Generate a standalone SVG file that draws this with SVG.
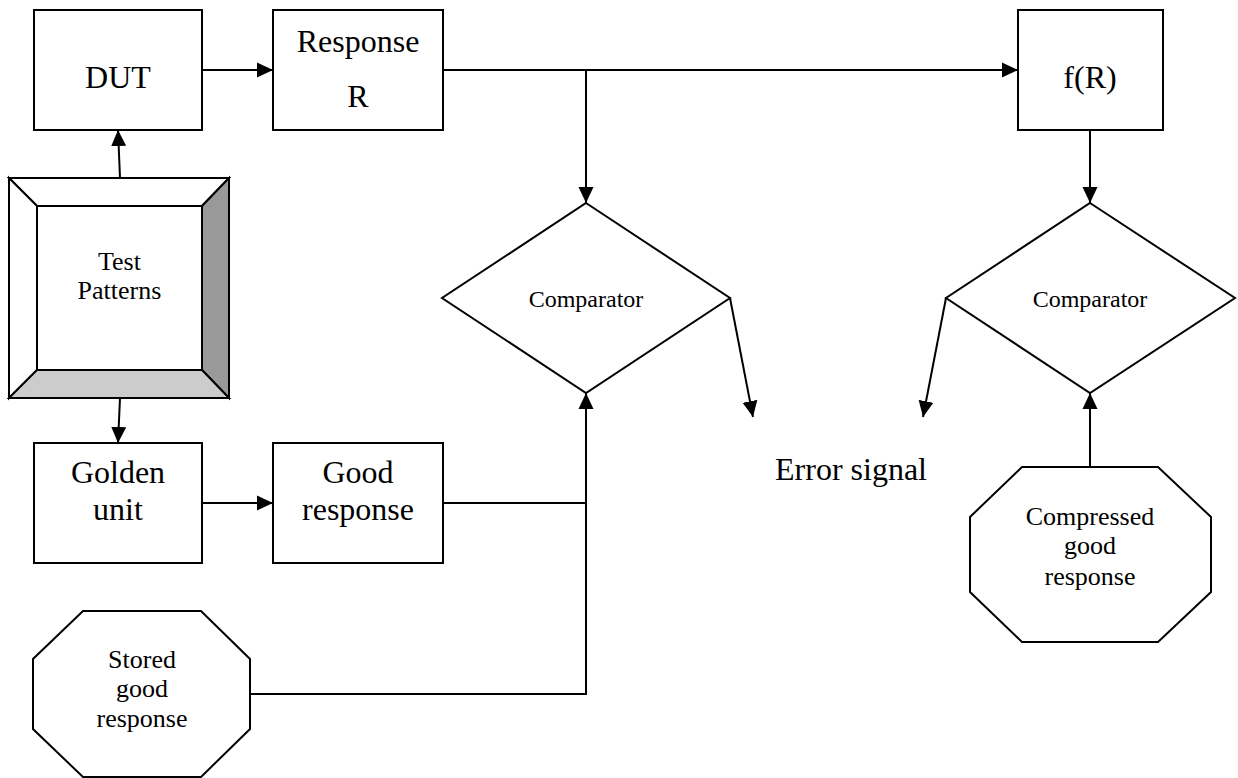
<svg xmlns="http://www.w3.org/2000/svg" width="1238" height="778" viewBox="0 0 1238 778">
  <style>
    .box { fill: #ffffff; stroke: #000000; stroke-width: 2; }
    .bev { stroke: #000000; stroke-width: 2; stroke-linejoin: miter; }
    .wire { fill: none; stroke: #000000; stroke-width: 2; }
    .arr { fill: none; stroke: #000000; stroke-width: 2; marker-end: url(#head); }
    text { fill: #000000; text-anchor: middle; }
    .big { font-size: 32px; }
    .mid { font-size: 26px; }
    .small { font-size: 24px; }
  </style>
  <defs>
    <marker id="head" markerUnits="userSpaceOnUse" markerWidth="17" markerHeight="16" refX="16" refY="8" orient="auto">
      <path d="M0,0.5 L16,8 L0,15.5 z" fill="#000000"/>
    </marker>
  </defs>
  <rect width="1238" height="778" fill="#ffffff"/>

  <!-- connectors -->
  <g id="connectors">
    <line class="arr" x1="202" y1="70" x2="273" y2="70"/>
    <line class="wire" x1="443" y1="70" x2="1003" y2="70"/>
    <line class="arr" x1="1000" y1="70" x2="1018" y2="70"/>
    <line class="arr" x1="586" y1="70" x2="586" y2="203"/>
    <line class="arr" x1="120" y1="178" x2="118" y2="130"/>
    <line class="arr" x1="120" y1="398" x2="118" y2="443"/>
    <line class="arr" x1="202" y1="503" x2="273" y2="503"/>
    <polyline class="wire" points="443,503 586,503"/>
    <polyline class="wire" points="250,694 586,694 586,500"/>
    <line class="arr" x1="586" y1="505" x2="586" y2="393"/>
    <line class="arr" x1="730" y1="298" x2="753" y2="417"/>
    <line class="arr" x1="1090" y1="130" x2="1090" y2="203"/>
    <line class="arr" x1="946" y1="298" x2="923" y2="417"/>
    <line class="arr" x1="1090" y1="467" x2="1090" y2="393"/>
  </g>

  <g font-family="'Liberation Serif', 'Times New Roman', 'DejaVu Serif', serif">
    <g id="dut">
      <rect class="box" x="34" y="10" width="168" height="120"/>
      <text class="big" x="118" y="88">DUT</text>
    </g>

    <g id="response">
      <rect class="box" x="273" y="10" width="170" height="120"/>
      <text class="big" x="358" y="52">Response</text>
      <text class="big" x="358" y="107">R</text>
    </g>

    <g id="f-of-r">
      <rect class="box" x="1018" y="10" width="145" height="120"/>
      <text class="big" x="1090" y="88">f(R)</text>
    </g>

    <g id="test-patterns">
      <rect class="box" x="9" y="178" width="220" height="220"/>
      <polygon class="bev" fill="#ffffff" points="9,178 229,178 202,206 37,206"/>
      <polygon class="bev" fill="#ffffff" points="9,178 37,206 37,370 9,398"/>
      <polygon class="bev" fill="#999999" points="229,178 229,398 202,370 202,206"/>
      <polygon class="bev" fill="#cccccc" points="9,398 229,398 202,370 37,370"/>
      <rect class="box" x="37" y="206" width="165" height="164"/>
      <text class="mid" x="119.5" y="270">Test</text>
      <text class="mid" x="119.5" y="299">Patterns</text>
    </g>

    <g id="golden-unit">
      <rect class="box" x="34" y="443" width="168" height="120"/>
      <text class="big" x="118" y="483">Golden</text>
      <text class="big" x="118" y="520">unit</text>
    </g>

    <g id="good-response">
      <rect class="box" x="273" y="443" width="170" height="120"/>
      <text class="big" x="358" y="483">Good</text>
      <text class="big" x="358" y="520">response</text>
    </g>

    <g id="comparator-1">
      <polygon class="box" points="586,203 730,298 586,393 442,298"/>
      <text class="small" x="586" y="307">Comparator</text>
    </g>

    <g id="comparator-2">
      <polygon class="box" points="1090,203 1235,298 1090,393 946,298"/>
      <text class="small" x="1090" y="307">Comparator</text>
    </g>

    <g id="error-signal">
      <text class="big" x="851" y="480">Error signal</text>
    </g>

    <g id="stored-good-response">
      <polygon class="box" points="83,611 201,611 250,659 250,729 201,777 83,777 33,729 33,659"/>
      <text class="mid" x="142" y="668">Stored</text>
      <text class="mid" x="142" y="697">good</text>
      <text class="mid" x="142" y="727">response</text>
    </g>

    <g id="compressed-good-response">
      <polygon class="box" points="1022,467 1158,467 1211,517 1211,592 1158,642 1022,642 970,592 970,517"/>
      <text class="mid" x="1090" y="525">Compressed</text>
      <text class="mid" x="1090" y="554">good</text>
      <text class="mid" x="1090" y="585">response</text>
    </g>
  </g>
</svg>
